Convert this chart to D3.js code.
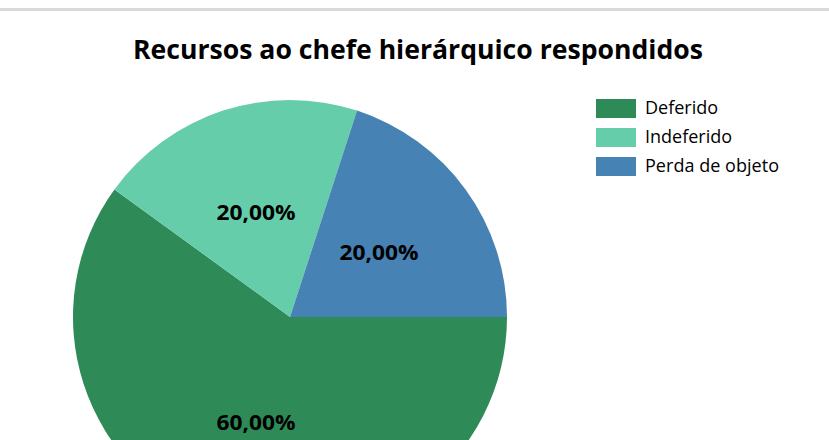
<!DOCTYPE html>
<html><head><meta charset="utf-8">
<script src="https://cdn.jsdelivr.net/npm/d3@7"></script>
<style>html,body{margin:0;padding:0;background:#fff;overflow:hidden}</style>
</head><body>
<svg id="c" width="829" height="440"></svg>
<script>
const categories = ["Deferido", "Indeferido", "Perda de objeto"];
const values = [60, 20, 20];
const labels = ["60,00%", "20,00%", "20,00%"];
const colors = ["#2e8b57", "#66cdaa", "#4682b4"];
const title = "Recursos ao chefe hierárquico respondidos";

const svg = d3.select("#c");
const font = "'Open Sans', 'Noto Sans', sans-serif";

svg.append("rect").attr("x", 0).attr("y", 8).attr("width", 829).attr("height", 3).attr("fill", "#d9d9d9");

svg.append("text").attr("x", 418).attr("y", 59).attr("text-anchor", "middle")
  .attr("font-family", font).attr("font-weight", "bold").attr("font-size", 27)
  .attr("textLength", 570).attr("lengthAdjust", "spacingAndGlyphs")
  .text(title);

const cx = 290, cy = 317, r = 217;
const pie = d3.pie().sort(null).startAngle(Math.PI / 2).endAngle(Math.PI / 2 + 2 * Math.PI);
const arcs = pie(values);
const arc = d3.arc().innerRadius(0).outerRadius(r);
const g = svg.append("g").attr("transform", `translate(${cx},${cy})`);
g.selectAll("path").data(arcs).join("path").attr("d", arc).attr("fill", (d, i) => colors[i]);

const labelArc = d3.arc().innerRadius(110).outerRadius(110);
g.selectAll("text.lbl").data(arcs).join("text").attr("class", "lbl")
  .attr("transform", d => { const c = labelArc.centroid(d); return `translate(${c[0]},${c[1]})`; })
  .attr("text-anchor", "middle").attr("dy", "0.36em")
  .attr("font-family", font).attr("font-weight", "bold").attr("font-size", 22).attr("fill", "#000")
  .attr("textLength", 79).attr("lengthAdjust", "spacingAndGlyphs")
  .text((d, i) => labels[i]);

const lg = svg.append("g").attr("transform", "translate(596,99)");
categories.forEach((c, i) => {
  const row = lg.append("g").attr("transform", `translate(0,${i * 29})`);
  row.append("rect").attr("width", 40).attr("height", 19).attr("fill", colors[i]);
  row.append("text").attr("x", 49).attr("y", 9).attr("dy", "0.35em")
    .attr("font-family", font).attr("font-size", 18).attr("fill", "#000")
    .attr("textLength", c === "Perda de objeto" ? 134 : null)
    .text(c);
});
</script>
</body></html>
